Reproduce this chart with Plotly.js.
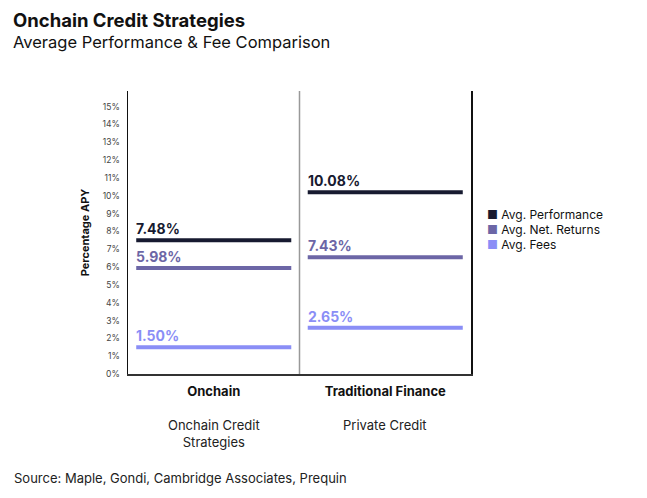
<!DOCTYPE html>
<html>
<head>
<meta charset="utf-8">
<script src="https://cdn.plot.ly/plotly-3.0.1.min.js"></script>
<style>html,body{margin:0;padding:0;background:#fff;}#chart{width:647px;height:498px;}</style>
</head>
<body>
<div id="chart"></div>
<script>
var categories = ["Onchain", "Traditional Finance"];
var subLabels = ["Onchain Credit<br>Strategies", "Private Credit"];
var seriesNames = ["Avg. Performance", "Avg. Net. Returns", "Avg. Fees"];
var performance = [7.5, 10.2];
var netReturns = [5.95, 6.55];
var fees = [1.5, 2.6];
var performanceLabels = ["7.48%", "10.08%"];
var netReturnsLabels = ["5.98%", "7.43%"];
var feesLabels = ["1.50%", "2.65%"];
var yTicks = [0,1,2,3,4,5,6,7,8,9,10,11,12,13,14,15];
var yTickLabels = ["0%","1%","2%","3%","4%","5%","6%","7%","8%","9%","10%","11%","12%","13%","14%","15%"];

var colors = ["#171a30", "#6c66a6", "#8a8ef6"];
var series = [performance, netReturns, fees];
var labels = [performanceLabels, netReturnsLabels, feesLabels];
var half = 0.452;
var FONT = 'Inter, Arial, sans-serif';

var traces = [];
var annotations = [];
series.forEach(function(vals, s) {
  var xs = [], ys = [];
  vals.forEach(function(v, i) {
    xs.push(i - half, i + half, null);
    ys.push(v, v, null);
    annotations.push({
      x: i - half, y: v, xref: 'x', yref: 'y',
      text: '<b>' + labels[s][i] + '</b>', showarrow: false,
      xanchor: 'left', yanchor: 'bottom', yshift: 1, xshift: -2,
      font: {family: FONT, size: 14, color: colors[s]}
    });
  });
  traces.push({x: xs, y: ys, type: 'scatter', mode: 'lines', name: seriesNames[s], line: {color: colors[s], width: 4}, showlegend: false, hoverinfo: 'skip'});
});
// legend drawn as annotations (compact spacing like the reference)
seriesNames.forEach(function(n, s) {
  annotations.push({
    x: 1, y: 0.58, xref: 'paper', yref: 'paper', xshift: 14, yshift: -5 - 15 * s,
    text: '<span style="color:' + colors[s] + '">■</span> ' + n, showarrow: false,
    xanchor: 'left', yanchor: 'middle', font: {family: FONT, size: 12, color: '#111'}
  });
});
categories.forEach(function(c, i) {
  annotations.push({
    x: i, y: 0, xref: 'x', yref: 'y', yshift: -41, text: subLabels[i], showarrow: false,
    xanchor: 'center', yanchor: 'top',
    font: {family: FONT, size: 13, color: '#222'}
  });
});
annotations.push({
  x: 0, y: 0, xref: 'paper', yref: 'paper', xshift: -116, yshift: -94,
  text: 'Source: Maple, Gondi, Cambridge Associates, Prequin', showarrow: false,
  xanchor: 'left', yanchor: 'top', font: {family: FONT, size: 13, color: '#222'}
});
annotations.push({
  x: 0, y: 1, xref: 'paper', yref: 'paper', xshift: -117, yshift: 84,
  text: '<b>Onchain Credit Strategies</b>', showarrow: false,
  xanchor: 'left', yanchor: 'top', font: {family: FONT, size: 18.5, color: '#111'}
});
annotations.push({
  x: 0, y: 1, xref: 'paper', yref: 'paper', xshift: -117, yshift: 84 - 23,
  text: 'Average Performance &amp; Fee Comparison', showarrow: false,
  xanchor: 'left', yanchor: 'top', font: {family: FONT, size: 16.5, color: '#111'}
});

var layout = {
  width: 647, height: 498,
  margin: {l: 128, r: 176, t: 91, b: 124},
  paper_bgcolor: '#fff', plot_bgcolor: '#fff',
  font: {family: FONT, color: '#222'},
  xaxis: {
    range: [-0.5, 1.5], tickvals: [0, 1],
    ticktext: categories.map(function(c){return '<b>' + c + '</b>';}),
    tickfont: {size: 13, color: '#111'}, ticks: '', showgrid: false, zeroline: false,
    showline: true, linecolor: '#333', linewidth: 1.5, fixedrange: true, ticklabelstandoff: 5
  },
  yaxis: {
    range: [0, 15.88], tickvals: yTicks, ticktext: yTickLabels, ticks: '',
    tickfont: {size: 8.5, color: '#444'}, showgrid: false, zeroline: false,
    showline: true, mirror: true, linecolor: '#111', linewidth: 1.5, ticklabelstandoff: 5,
    title: {text: '<b>Percentage APY</b>', font: {size: 11, color: '#111'}, standoff: 10}
  },
  shapes: [{type: 'line', xref: 'x', yref: 'paper', x0: 0.5, x1: 0.5, y0: 0, y1: 1, line: {color: '#999', width: 1.5}}],
  annotations: annotations,
  showlegend: false
};
Plotly.newPlot('chart', traces, layout, {displayModeBar: false, staticPlot: true});
</script>
</body>
</html>
